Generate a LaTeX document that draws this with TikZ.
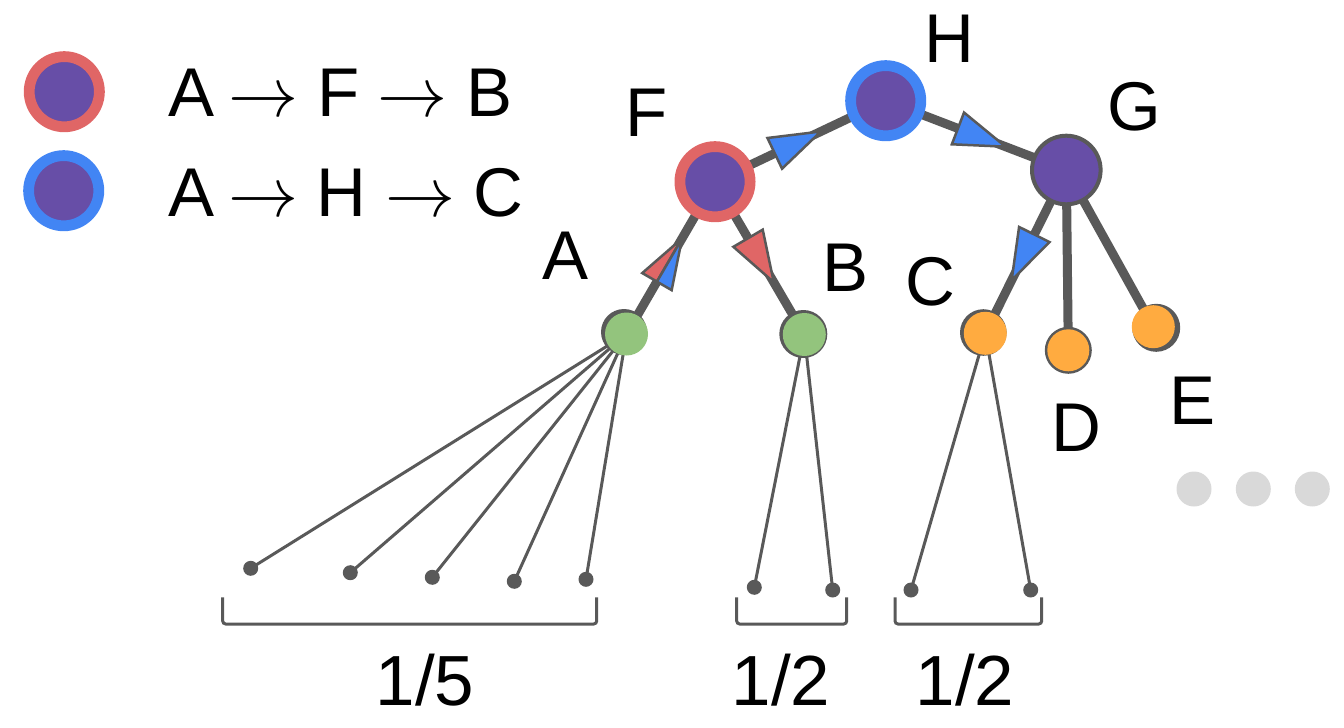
\RequirePackage{fix-cm}
\documentclass[tikz,border=0pt]{standalone}
\usepackage{fontspec}
\setmainfont{Liberation Sans}
\usetikzlibrary{calc}
\pgfdeclarelayer{bg}
\pgfsetlayers{bg,main}
\definecolor{cpurple}{HTML}{674EA7}
\definecolor{cred}{HTML}{E06666}
\definecolor{cblue}{HTML}{4285F4}
\definecolor{cgreen}{HTML}{93C47D}
\definecolor{corange}{HTML}{FFAB40}
\definecolor{cgray}{HTML}{595959}
\definecolor{cdots}{HTML}{D9D9D9}
\tikzset{
  ringred/.style={circle, fill=cpurple, draw=cred, line width=10.8pt, minimum size=70.2pt, inner sep=0pt},
  ringblue/.style={circle, fill=cpurple, draw=cblue, line width=10.8pt, minimum size=70.2pt, inner sep=0pt},
  gnode/.style={circle, fill=cpurple, draw=cgray, line width=4pt, minimum size=68.6pt, inner sep=0pt},
  leafnode/.style={circle, minimum size=43pt, inner sep=0pt},
  thickedge/.style={draw=cgray, line width=9pt},
  thinedge/.style={draw=cgray, line width=3pt},
  tipshape/.style={draw=cgray, line width=2.5pt, line join=miter},
  lbl/.style={font=\fontsize{69}{69}\selectfont, inner sep=0pt, anchor=base},
  leg/.style={font=\fontsize{69}{69}\selectfont, inner sep=0pt, anchor=base west},
  legarrow/.style={font=\fontsize{70}{70}\selectfont, inner sep=0pt, anchor=base west},
  fraclbl/.style={font=\fontsize{71}{71}\selectfont, inner sep=0pt, anchor=base},
  bracketline/.style={draw=cgray, line width=3pt, rounded corners=3pt},
  enddot/.style={circle, fill=cgray, minimum size=15pt, inner sep=0pt},
  moredot/.style={circle, fill=cdots, minimum size=35pt, inner sep=0pt},
}
\newcommand{\arrowtri}[4]{%
  \coordinate (tm) at ($(#1.center)!#3!(#2.center)$);
  \filldraw[tipshape, fill=#4] ($(tm)!17pt!90:(#2.center)$) -- ($(tm)!51pt!(#2.center)$) -- ($(tm)!17pt!-90:(#2.center)$) -- cycle;}
\newcommand{\splittri}[5]{%
  \coordinate (tm) at ($(#1.center)!#3!(#2.center)$);
  \filldraw[tipshape, fill=#4] (tm) -- ($(tm)!17pt!90:(#2.center)$) -- ($(tm)!50pt!(#2.center)$) -- cycle;
  \filldraw[tipshape, fill=#5] (tm) -- ($(tm)!50pt!(#2.center)$) -- ($(tm)!17pt!-90:(#2.center)$) -- cycle;}
\begin{document}
\begin{tikzpicture}[x=1pt,y=-1pt]
\useasboundingbox (0,0) rectangle (1344,728);
% legend
\node[ringred] (legred) at (64.3,91.7) {};
\node[ringblue] (legblue) at (63.7,190.7) {};
\node[leg] (l1a) at (168,116) {A};
\node[legarrow] (l1r1) at (228,116) {$\rightarrow$};
\node[leg] (l1f) at (317.3,116) {F};
\node[legarrow] (l1r2) at (377,116) {$\rightarrow$};
\node[leg] (l1b) at (466,116) {B};
\node[leg] (l2a) at (168,216.7) {A};
\node[legarrow] (l2r1) at (228,216.7) {$\rightarrow$};
\node[leg] (l2h) at (316.5,216.7) {H};
\node[legarrow] (l2r2) at (385,216.7) {$\rightarrow$};
\node[leg] (l2c) at (473.5,216.7) {C};
% shadows of leaf nodes
\fill[cgray] (624,332) circle (23pt);
\fill[cgray] (803.3,334) circle (24pt);
\fill[cgray] (983.3,332.5) circle (23.3pt);
\fill[cgray] (1068.3,350.3) circle (23.5pt);
\fill[cgray] (1156.2,327.8) circle (24pt);
% main nodes
\node[ringred] (F) at (715,181.7) {};
\node[ringblue] (H) at (885.7,100.7) {};
\node[gnode] (G) at (1066.3,170) {};
\node[leafnode, fill=cgreen] (A) at (626.5,334) {};
\node[leafnode, fill=cgreen] (B) at (804.3,334.5) {};
\node[leafnode, fill=corange] (C) at (985.3,333.3) {};
\node[leafnode, fill=corange, minimum size=42pt] (D) at (1068.3,350.3) {};
\node[leafnode, fill=corange] (E) at (1153.3,326.7) {};
% end dots
\node[enddot] (a1) at (250.7,568.3) {};
\node[enddot] (a2) at (350.3,572.7) {};
\node[enddot] (a3) at (432.3,577.3) {};
\node[enddot] (a4) at (514.3,581.3) {};
\node[enddot] (a5) at (586,579.3) {};
\node[enddot] (b1) at (754.3,587.3) {};
\node[enddot] (b2) at (832.7,590) {};
\node[enddot] (c1) at (911,590) {};
\node[enddot] (c2) at (1030.7,590) {};
% edges
\begin{pgfonlayer}{bg}
\draw[thickedge] (F.center) -- (H.center);
\draw[thickedge] (H.center) -- (G.center);
\draw[thickedge] (A.center) -- (F.center);
\draw[thickedge] (F.center) -- (B.center);
\draw[thickedge] (G.center) -- (C.center);
\draw[thickedge] (G.center) -- (D.center);
\draw[thickedge] (G.center) -- (E.center);
\foreach \t in {a1,a2,a3,a4,a5} \draw[thinedge] (A.center) -- (\t.center);
\foreach \t in {b1,b2} \draw[thinedge] (B.center) -- (\t.center);
\foreach \t in {c1,c2} \draw[thinedge] (C.center) -- (\t.center);
\end{pgfonlayer}
% arrowheads on edges
\arrowtri{F}{H}{0.35}{cblue}
\arrowtri{H}{G}{0.40}{cblue}
\arrowtri{F}{B}{0.37}{cred}
\arrowtri{G}{C}{0.395}{cblue}
\splittri{A}{F}{0.344}{cred}{cblue}
% labels
\node[lbl] (lF) at (647,136.7) {F};
\node[lbl] (lH) at (949.5,62.7) {H};
\node[lbl] (lG) at (1134,130.5) {G};
\node[lbl] (lA) at (565.5,279.5) {A};
\node[lbl] (lB) at (845.8,291.7) {B};
\node[lbl] (lC) at (930,305.5) {C};
\node[lbl] (lD) at (1076,451) {D};
\node[lbl] (lE) at (1192,424.5) {E};
% brackets
\draw[bracketline] (222.7,597.3) -- (222.7,624) -- (596.7,624) -- (596.7,597.3);
\draw[bracketline] (736.7,597.3) -- (736.7,624) -- (846.7,624) -- (846.7,597.3);
\draw[bracketline] (895,597.3) -- (895,624) -- (1041.7,624) -- (1041.7,597.3);
\node[fraclbl] (f1) at (425,705) {1/5};
\node[fraclbl] (f2) at (781,705) {1/2};
\node[fraclbl] (f3) at (965,705) {1/2};
% more dots
\node[moredot] (m1) at (1194,489) {};
\node[moredot] (m2) at (1253.3,489) {};
\node[moredot] (m3) at (1312.3,489) {};
\end{tikzpicture}
\end{document}
